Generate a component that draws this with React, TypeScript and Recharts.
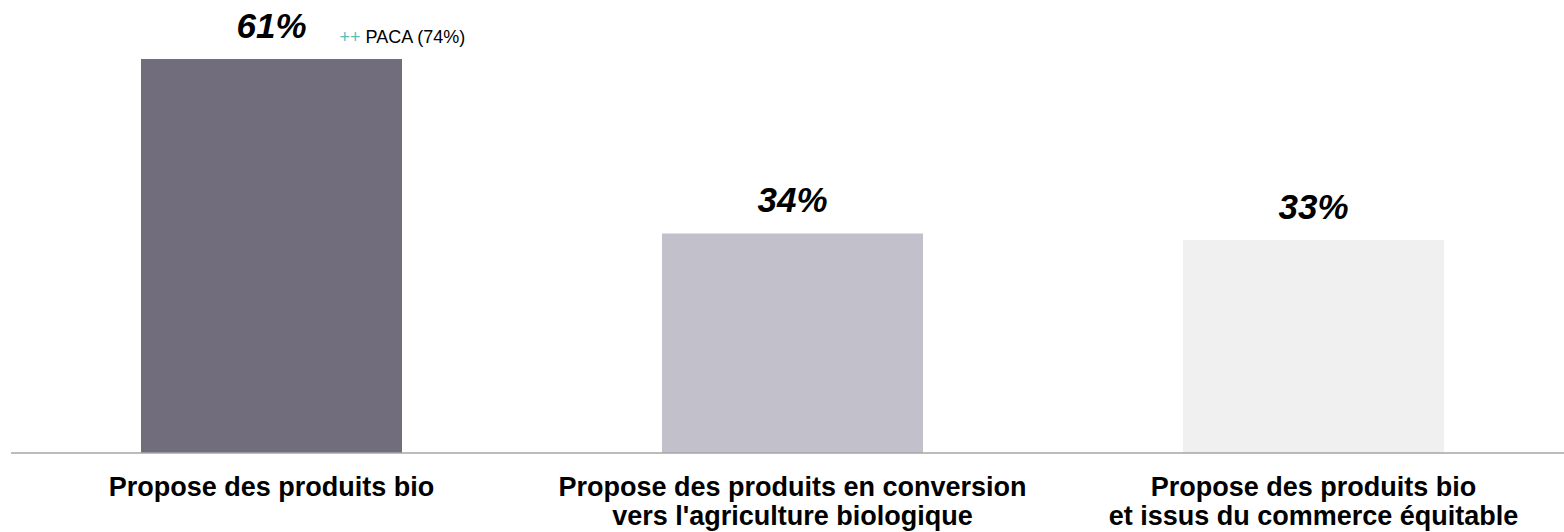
import { BarChart, Bar, XAxis, YAxis, Cell, LabelList } from "recharts"

const categories = [
  "Propose des produits bio",
  "Propose des produits en conversion\nvers l'agriculture biologique",
  "Propose des produits bio\net issus du commerce équitable"
]
const values = [61, 34, 33]
const colors = ["#726d7d", "#c2c0cb", "#f0f0f0"]
const notePrefix = ["++", "", ""]
const noteText = ["PACA (74%)", "", ""]

const data = categories.map((name, i) => ({ name, value: values[i], idx: i }))

const font = "'Liberation Sans', Arial, sans-serif"

function CategoryTick(props: any) {
  const { x, y, payload } = props
  const lines = String(payload.value).split("\n")
  return (
    <text x={x} y={y} textAnchor="middle" fontFamily={font} fontWeight="bold" fontSize={27} fill="#000">
      {lines.map((l, i) => (
        <tspan key={i} x={x} dy={i === 0 ? 43 : 29}>{l}</tspan>
      ))}
    </text>
  )
}

function ValueLabel(props: any) {
  const { x, y, width, value, index } = props
  const cx = x + width / 2
  return (
    <g>
      <text x={cx} y={y - 21} textAnchor="middle" fontFamily={font} fontWeight="bold" fontStyle="italic" fontSize={35} fill="#000">
        {value}%
      </text>
      {noteText[index] && (
        <text x={cx + 68} y={y - 16} fontFamily={font} fontSize={18} fill="#000">
          <tspan fill="#5bbcbc">{notePrefix[index]}</tspan>
          <tspan> {noteText[index]}</tspan>
        </text>
      )}
    </g>
  )
}

export default function App() {
  return (
    <div style={{ position: "fixed", left: 0, top: 0, width: 1564, height: 532, overflow: "hidden", background: "#fff" }}>
      <BarChart width={1580} height={532} data={data} margin={{ top: 1, right: 6, bottom: 0, left: 11 }}>
        <XAxis
          dataKey="name"
          height={79}
          tickLine={false}
          tickSize={0}
          tickMargin={0}
          interval={0}
          axisLine={{ stroke: "#a6a6a6", strokeWidth: 1.5 }}
          tick={<CategoryTick />}
        />
        <YAxis hide domain={[0, 70]} />
        <Bar dataKey="value" barSize={261} isAnimationActive={false}>
          {data.map((d, i) => (
            <Cell key={i} fill={colors[i]} />
          ))}
          <LabelList dataKey="value" content={<ValueLabel />} />
        </Bar>
      </BarChart>
    </div>
  )
}
